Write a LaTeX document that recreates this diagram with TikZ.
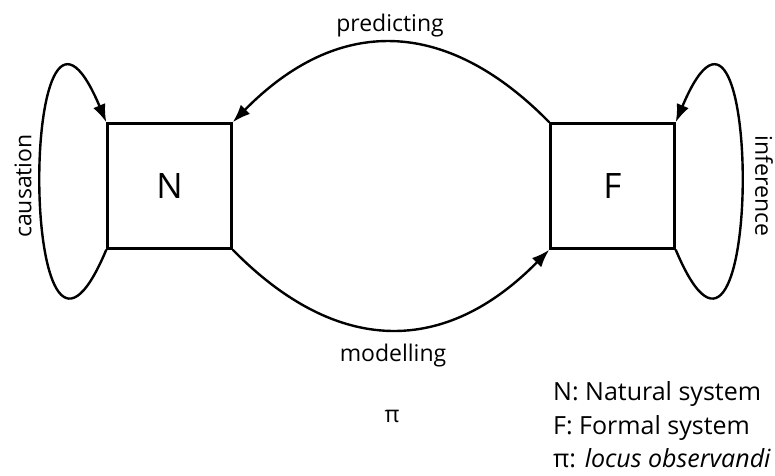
\documentclass[tikz,border=0pt]{standalone}
\usepackage{fontspec}
\setmainfont{Open Sans}
\usetikzlibrary{arrows.meta}
\begin{document}
\begin{tikzpicture}[x=1pt,y=-1pt,
  sysbox/.style={draw,line width=2.4pt,minimum width=124pt,minimum height=125pt,inner sep=0pt,font=\fontsize{35}{40}\selectfont},
  conn/.style={line width=2.4pt,-{Latex[length=18pt,width=13pt]}},
  lbl/.style={font=\fontsize{23}{28}\selectfont,inner sep=0pt},
  leg/.style={font=\fontsize{25}{28}\selectfont,inner sep=0pt,anchor=base west}]
\useasboundingbox (0,0) rectangle (775,475);
\node[sysbox] (N) at (169.5,186) {N};
\node[sysbox] (F) at (612.5,186) {F};
\draw[conn] (F.north west) .. controls (445,16) and (337,16) .. (N.north east);
\draw[conn] (N.south east) .. controls (337,356) and (445,356) .. (F.south west);
\draw[conn] (N.south west) .. controls (18,460) and (18,-88) .. (N.north west);
\draw[conn] (F.south east) .. controls (764,460) and (764,-88) .. (F.north east);
\node[lbl,anchor=base] (pred) at (390,31) {predicting};
\node[lbl,anchor=base] (mod) at (393,361) {modelling};
\node[lbl] (pi) at (392,416) {π};
\node[lbl,rotate=90] (caus) at (23,186) {causation};
\node[lbl,rotate=-90] (inf) at (764,186) {inference};
\node[leg] (l1) at (553,400) {N: Natural system};
\node[leg] (l2) at (553,434) {F: Formal system};
\node[leg] (l3) at (553,467) {π: \textit{locus observandi}};
\end{tikzpicture}
\end{document}
